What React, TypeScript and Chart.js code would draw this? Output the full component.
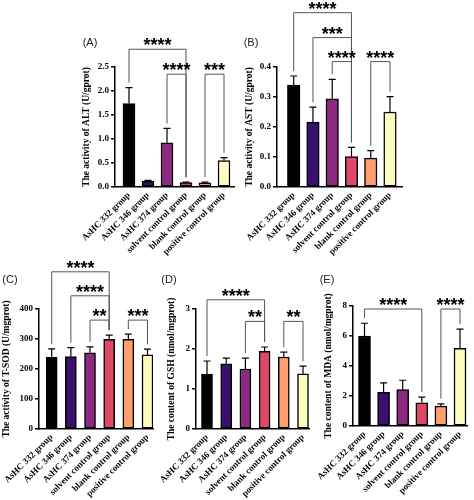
import React, { useEffect, useRef } from 'react';
import { Chart, registerables } from 'chart.js';

Chart.register(...registerables);

// ---------- data ----------
const categories = [
  'AsHC 332 group',
  'AsHC 346 group',
  'AsHC 374 group',
  'solvent control group',
  'blank control group',
  'positive control group',
];
const barColors = ['#000000', '#3b0f70', '#8c2981', '#de4968', '#fe9f6d', '#fcfdbf'];

// (A) ALT
const altMeans = [1.74, 0.12, 0.92, 0.09, 0.085, 0.55];
const altSD = [0.33, 0.02, 0.3, 0.01, 0.015, 0.06];
const altMax = 2.5;
const altStep = 0.5;
const altBrackets = [
  { from: 0, to: 3, at: 2.87, stars: '****' },
  { from: 2, to: 3, at: 2.35, stars: '****' },
  { from: 4, to: 5, at: 2.35, stars: '***' },
];

// (B) AST
const astMeans = [0.34, 0.216, 0.294, 0.101, 0.096, 0.25];
const astSD = [0.03, 0.05, 0.065, 0.031, 0.025, 0.051];
const astMax = 0.4;
const astStep = 0.1;
const astBrackets = [
  { from: 0, to: 3, at: 0.581, stars: '****' },
  { from: 1, to: 3, at: 0.498, stars: '***' },
  { from: 2, to: 3, at: 0.418, stars: '****' },
  { from: 4, to: 5, at: 0.418, stars: '****' },
];

// (C) T-SOD
const sodMeans = [239, 241, 254, 299, 299, 247];
const sodSD = [28, 30, 20, 14, 17, 19];
const sodMax = 400;
const sodStep = 100;
const sodBrackets = [
  { from: 0, to: 3, at: 524, stars: '****' },
  { from: 1, to: 3, at: 444, stars: '****' },
  { from: 2, to: 3, at: 363, stars: '**' },
  { from: 4, to: 5, at: 363, stars: '***' },
];

// (D) GSH
const gshMeans = [1.37, 1.63, 1.5, 1.94, 1.8, 1.38];
const gshSD = [0.33, 0.14, 0.27, 0.11, 0.12, 0.19];
const gshMax = 3;
const gshStep = 1;
const gshBrackets = [
  { from: 0, to: 3, at: 3.23, stars: '****' },
  { from: 2, to: 3, at: 2.69, stars: '**' },
  { from: 4, to: 5, at: 2.69, stars: '**' },
];

// (E) MDA
const mdaMeans = [6.0, 2.25, 2.42, 1.55, 1.33, 5.18];
const mdaSD = [0.85, 0.62, 0.63, 0.38, 0.15, 1.28];
const mdaMax = 8;
const mdaStep = 2;
const mdaBrackets = [
  { from: 0, to: 3, at: 7.8, stars: '****' },
  { from: 4, to: 5, at: 7.8, stars: '****' },
];

// ---------- layout (pixel positions on the 474x500 page) ----------
const W = 474;
const H = 500;

const panels = [
  {
    letter: '(A)', title: 'The activity of ALT (U/gprot)',
    means: altMeans, sd: altSD, brackets: altBrackets, max: altMax, step: altStep, decimals: 1,
    left: 115, right: 234, top: 67, bottom: 187, c0: 129, c5: 224, barW: 12,
    letterX: 90, letterY: 43, titleX: 87,
  },
  {
    letter: '(B)', title: 'The activity of AST (U/gprot)',
    means: astMeans, sd: astSD, brackets: astBrackets, max: astMax, step: astStep, decimals: 1,
    left: 277, right: 402, top: 67, bottom: 187, c0: 293.7, c5: 390, barW: 12.5,
    letterX: 251, letterY: 43, titleX: 250,
  },
  {
    letter: '(C)', title: 'The activity of T-SOD (U/mgprot)',
    means: sodMeans, sd: sodSD, brackets: sodBrackets, max: sodMax, step: sodStep, decimals: 0,
    left: 39, right: 153, top: 309, bottom: 429, c0: 51.7, c5: 147.5, barW: 11,
    letterX: 10, letterY: 280, titleX: 7,
  },
  {
    letter: '(D)', title: 'The content of GSH (nmol/mgprot)',
    means: gshMeans, sd: gshSD, brackets: gshBrackets, max: gshMax, step: gshStep, decimals: 0,
    left: 196, right: 309, top: 309, bottom: 429, c0: 207, c5: 303, barW: 11,
    letterX: 169, letterY: 280, titleX: 172,
  },
  {
    letter: '(E)', title: 'The content of MDA (nmol/mgprot)',
    means: mdaMeans, sd: mdaSD, brackets: mdaBrackets, max: mdaMax, step: mdaStep, decimals: 0,
    left: 353, right: 467, top: 306, bottom: 426, c0: 364.5, c5: 460, barW: 12,
    letterX: 327, letterY: 280, titleX: 329,
  },
];

const SERIF = '"Liberation Serif", "Times New Roman", serif';
const SANS = '"Liberation Sans", Arial, sans-serif';

function decoPlugin(p: any) {
  return {
    id: 'deco',
    afterDatasetsDraw(chart: any) {
      const { ctx } = chart;
      const x = chart.scales.x;
      const y = chart.scales.y;
      ctx.save();
      ctx.strokeStyle = '#000';
      ctx.lineWidth = 1.2;
      p.means.forEach((m: number, i: number) => {
        const px = x.getPixelForValue(i);
        const top = y.getPixelForValue(m);
        const e = y.getPixelForValue(m + p.sd[i]);
        ctx.beginPath();
        ctx.moveTo(px, top);
        ctx.lineTo(px, e);
        ctx.moveTo(px - 3.5, e);
        ctx.lineTo(px + 3.5, e);
        ctx.stroke();
      });
      ctx.restore();
    },
    afterDraw(chart: any) {
      const { ctx, chartArea } = chart;
      const x = chart.scales.x;
      const y = chart.scales.y;
      ctx.save();
      // brackets
      ctx.strokeStyle = '#555';
      ctx.lineWidth = 1;
      const starSize = 18;
      p.brackets.forEach((b: any) => {
        const xa = x.getPixelForValue(b.from);
        const xb = x.getPixelForValue(b.to);
        const yl = y.getPixelForValue(b.at);
        const la = y.getPixelForValue(p.means[b.from] + p.sd[b.from]) - 5;
        const lb = y.getPixelForValue(p.means[b.to] + p.sd[b.to]) - 5;
        ctx.beginPath();
        ctx.moveTo(xa, la);
        ctx.lineTo(xa, yl);
        ctx.lineTo(xb, yl);
        ctx.lineTo(xb, lb);
        ctx.stroke();
        ctx.fillStyle = '#000';
        ctx.font = `bold ${starSize}px ${SANS}`;
        ctx.textAlign = 'center';
        ctx.textBaseline = 'alphabetic';
        ctx.fillText(b.stars, (xa + xb) / 2, yl - 8.5 + 0.58 * starSize);
      });
      // panel letter
      ctx.fillStyle = '#222';
      ctx.font = `11px ${SANS}`;
      ctx.textAlign = 'center';
      ctx.textBaseline = 'middle';
      ctx.fillText(p.letter, p.letterX, p.letterY);
      // y title
      ctx.fillStyle = '#000';
      ctx.font = `bold 9.5px ${SERIF}`;
      ctx.translate(p.titleX, (chartArea.top + chartArea.bottom) / 2);
      ctx.rotate(-Math.PI / 2);
      ctx.fillText(p.title, 0, 0);
      ctx.restore();
    },
  };
}

function buildConfig(p: any): any {
  const s = (p.c5 - p.c0) / 5;
  const xMin = -(p.c0 - p.left) / s;
  const xMax = 5 + (p.right - p.c5) / s;
  const tickFont = { family: SERIF, weight: 'bold', size: 9 };
  return {
    type: 'bar',
    data: {
      datasets: [
        {
          data: p.means.map((m: number, i: number) => ({ x: i, y: m })),
          backgroundColor: barColors,
          borderColor: '#000',
          borderWidth: 1.5,
          borderSkipped: false,
          barThickness: p.barW,
        },
      ],
    },
    options: {
      responsive: false,
      animation: false,
      devicePixelRatio: 1,
      layout: { padding: { left: 0, top: p.top, right: W - p.right, bottom: 0 } },
      plugins: { legend: { display: false }, tooltip: { enabled: false }, title: { display: false } },
      scales: {
        x: {
          type: 'linear',
          min: xMin,
          max: xMax,
          offset: false,
          bounds: 'data',
          afterBuildTicks: (sc: any) => {
            sc.ticks = categories.map((_, i) => ({ value: i }));
          },
          afterFit: (sc: any) => {
            sc.height = H - p.bottom;
            sc.paddingLeft = 0;
            sc.paddingRight = 0;
          },
          grid: { display: false, drawTicks: false },
          border: { display: true, color: '#000', width: 1.5 },
          ticks: {
            autoSkip: false,
            maxRotation: 45,
            minRotation: 45,
            padding: 3,
            color: '#000',
            font: tickFont,
            callback: (v: any) => categories[Math.round(Number(v))],
          },
        },
        y: {
          type: 'linear',
          min: 0,
          max: p.max,
          afterFit: (sc: any) => {
            sc.width = p.left;
            sc.paddingTop = 0;
            sc.paddingBottom = 0;
          },
          grid: { drawOnChartArea: false, drawTicks: true, tickLength: 4, color: '#000', lineWidth: 1.5 },
          border: { display: true, color: '#000', width: 1.5 },
          ticks: {
            stepSize: p.step,
            padding: 2,
            color: '#000',
            font: tickFont,
            callback: (v: any) => Number(v).toFixed(p.decimals),
          },
        },
      },
    },
    plugins: [decoPlugin(p)],
  };
}

function Panel({ p }: { p: any }) {
  const ref = useRef<HTMLCanvasElement>(null);
  useEffect(() => {
    const chart = new Chart(ref.current as HTMLCanvasElement, buildConfig(p));
    return () => chart.destroy();
  }, [p]);
  return (
    <canvas
      ref={ref}
      width={W}
      height={H}
      style={{ position: 'absolute', left: 0, top: 0, width: W, height: H }}
    />
  );
}

export default function App() {
  useEffect(() => {
    document.body.style.margin = '0';
  }, []);
  return (
    <div style={{ position: 'fixed', left: 0, top: 0, width: W, height: H, background: '#fff' }}>
      {panels.map((p) => (
        <Panel key={p.letter} p={p} />
      ))}
    </div>
  );
}
